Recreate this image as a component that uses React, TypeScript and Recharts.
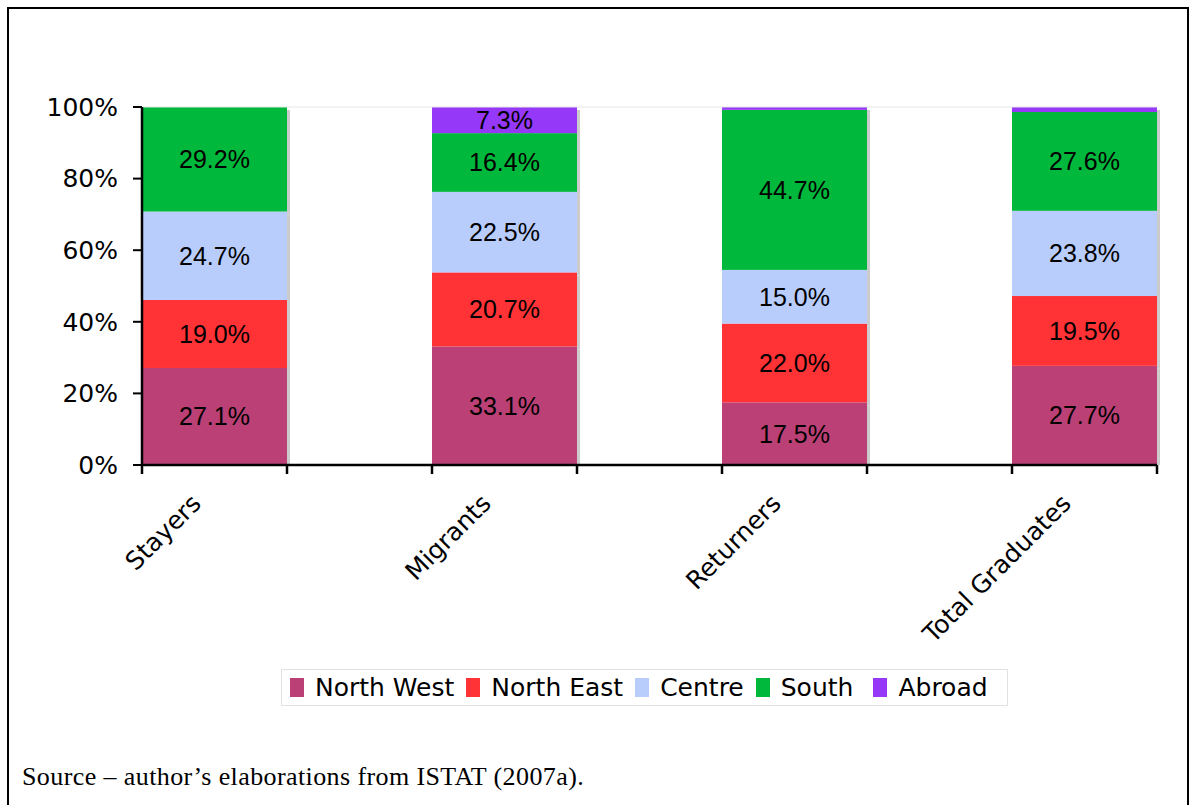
import React from 'react';
import { BarChart, Bar, XAxis, YAxis, Legend, LabelList, ReferenceLine } from 'recharts';

const groups = ['Stayers', 'Migrants', 'Returners', 'Total Graduates'];
const northWest = [27.1, 33.1, 17.5, 27.7];
const northEast = [19.0, 20.7, 22.0, 19.5];
const centre = [24.7, 22.5, 15.0, 23.8];
const south = [29.2, 16.4, 44.7, 27.6];
const abroad = [0, 7.3, 0.8, 1.4];
const yTicks = [0, 20, 40, 60, 80, 100];

const series = [
  { key: 'nw', name: 'North West', color: '#ba4075', values: northWest },
  { key: 'ne', name: 'North East', color: '#ff3236', values: northEast },
  { key: 'ce', name: 'Centre', color: '#b9cdfd', values: centre },
  { key: 'so', name: 'South', color: '#00b83b', values: south },
  { key: 'ab', name: 'Abroad', color: '#9638f8', values: abroad },
];

const data = groups.map((g, i) => {
  const row: any = { name: g };
  series.forEach((s) => (row[s.key] = s.values[i]));
  return row;
});

const BAR_W = 145;
const VERDANA = '"DejaVu Sans", Verdana, sans-serif';
const ARIAL = '"Liberation Sans", Arial, sans-serif';

const shadowBar = (bottom: boolean) => (props: any) => {
  const { x, y, width, height, fill } = props;
  if (!height || height <= 0) return <g />;
  const sh = bottom ? Math.max(0, height - 3) : height;
  return (
    <g>
      <rect x={x + width} y={y + 3} width={3} height={sh} fill="#cbcbcb" />
      <rect x={x} y={y} width={width} height={height} fill={fill} />
    </g>
  );
};

const SegmentLabel = (props: any) => {
  const { x, y, width, height, value } = props;
  if (value == null || value < 5) return null;
  return (
    <text x={x + width / 2} y={y + height / 2} textAnchor="middle" dominantBaseline="central"
      fontFamily={ARIAL} fontSize={25} fill="#000">
      {Number(value).toFixed(1)}%
    </text>
  );
};

// tick y comes in 8px below the axis line (default tickSize + tickMargin)
const GroupTick = (props: any) => {
  const { x, y, payload } = props;
  const ay = y - 8;
  const tx = x - 12;
  const ty = ay + 40;
  return (
    <g>
      <line x1={x - BAR_W / 2} y1={ay} x2={x - BAR_W / 2} y2={ay + 9} stroke="#000" strokeWidth={2.5} />
      <line x1={x + BAR_W / 2} y1={ay} x2={x + BAR_W / 2} y2={ay + 9} stroke="#000" strokeWidth={2.5} />
      <text x={tx} y={ty} textAnchor="end" transform={`rotate(-45, ${tx}, ${ty})`}
        fontFamily={VERDANA} fontSize={25} fill="#000">
        {payload.value}
      </text>
    </g>
  );
};

const LegendBox = () => (
  <div style={{ position: 'relative', width: 1195, height: 136 }}>
    <div style={{
      position: 'absolute', left: 281, top: 0, width: 727, height: 37, boxSizing: 'border-box',
      border: '1px solid #e2e2e2', display: 'flex', alignItems: 'center', paddingLeft: 8,
      fontFamily: VERDANA, fontSize: 25, color: '#000', whiteSpace: 'nowrap',
    }}>
      {series.map((s) => (
        <span key={s.key} style={{ display: 'flex', alignItems: 'center', marginRight: s.key === 'so' ? 20 : 12 }}>
          <span style={{ width: 14, height: 19, background: s.color, marginRight: 11, display: 'inline-block' }} />
          {s.name}
        </span>
      ))}
    </div>
  </div>
);

export default function App() {
  return (
    <div style={{ position: 'absolute', left: 0, top: 0, width: 1195, height: 805, background: '#fff', overflow: 'hidden' }}>
      <div style={{ position: 'absolute', left: 7, top: 7, width: 1182, height: 900, boxSizing: 'border-box', border: '2px solid #000' }} />
      <div style={{ position: 'absolute', left: 0, top: 0 }}>
        <BarChart width={1195} height={805} data={data} margin={{ top: 107, right: 38, left: 0, bottom: 0 }}
          barCategoryGap="25%">
          <XAxis dataKey="name" height={204} interval={0} tickLine={false} tick={<GroupTick />}
            padding={{ left: -BAR_W / 2, right: -BAR_W / 2 }}
            axisLine={{ stroke: '#000', strokeWidth: 2.5 }} />
          <YAxis width={142} domain={[0, 100]} ticks={yTicks} allowDataOverflow
            tickFormatter={(v: number) => `${v}%`} tickSize={9} tickMargin={15}
            axisLine={{ stroke: '#000', strokeWidth: 2.5 }} tickLine={{ stroke: '#000', strokeWidth: 2 }}
            tick={{ fontFamily: VERDANA, fontSize: 25, fill: '#000' }} />
          <ReferenceLine y={100} stroke="#e6e6e6" strokeWidth={1} />
          <Legend verticalAlign="bottom" content={<LegendBox />} />
          {series.map((s, i) => (
            <Bar key={s.key} dataKey={s.key} name={s.name} stackId="a" fill={s.color}
              shape={shadowBar(i === 0)} isAnimationActive={false}>
              <LabelList dataKey={s.key} content={<SegmentLabel />} />
            </Bar>
          ))}
        </BarChart>
      </div>
      <div style={{ position: 'absolute', left: 22, top: 762, fontFamily: '"Liberation Serif", "Times New Roman", serif', fontSize: 26, letterSpacing: 0.4, color: '#000' }}>
        Source – author’s elaborations from ISTAT (2007a).
      </div>
    </div>
  );
}
